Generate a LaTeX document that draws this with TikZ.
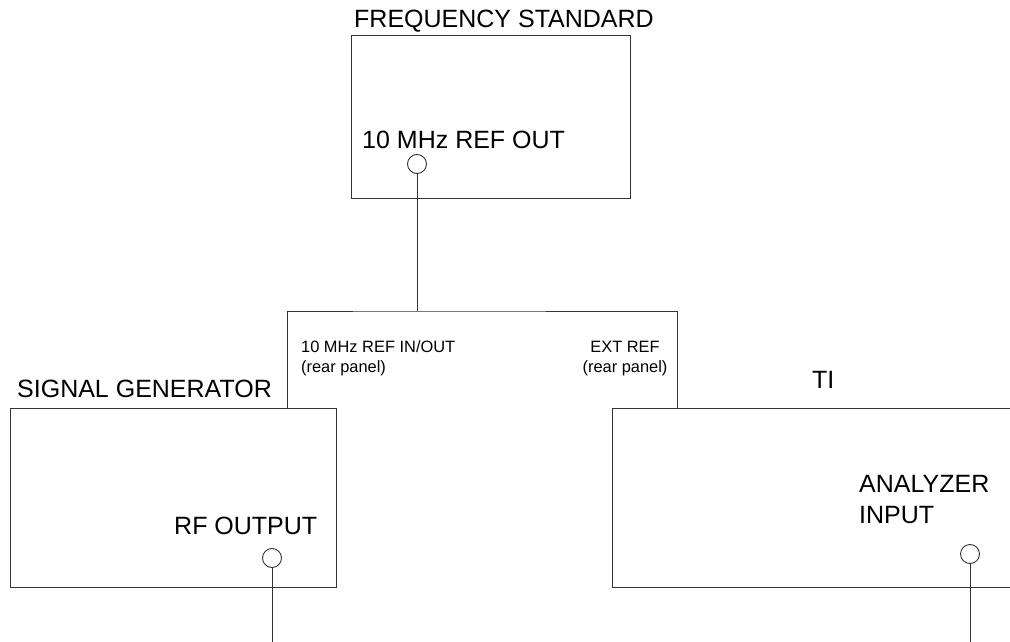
\documentclass[tikz,border=0pt]{standalone}
\usepackage{fontspec}
\setmainfont{Liberation Sans}
\usepackage{tikz}
\usetikzlibrary{positioning,calc}

\begin{document}
\begin{tikzpicture}[x=1pt, y=-1pt,
      unit/.style={draw=black!80, line width=0.9pt, rectangle, inner sep=0pt,
      anchor=north west},
      port/.style={circle, draw=black!80, line width=0.9pt, inner sep=0pt,
      minimum size=19pt},
      cable/.style={draw=black!80, line width=0.9pt},
      title/.style={font=\fontsize{25pt}{31pt}\selectfont, anchor=base west,
      inner sep=0pt},
      portlabel/.style={font=\fontsize{25pt}{31pt}\selectfont, anchor=base west,
      inner sep=0pt, align=left},
      reflabel/.style={font=\fontsize{16.4pt}{20pt}\selectfont, inner sep=0pt} ]

    \useasboundingbox (0,0) rectangle (1010,642);

    % Instruments
    \node[unit, minimum width=279pt, minimum height=163pt] (fs) at (351,35) {};
    \node[unit, minimum width=326pt, minimum height=179pt] (sg) at (10,408) {};
    \node[unit, minimum width=420pt, minimum height=179pt] (ti) at (612,408) {};

    % Instrument names
    \node[title] (fsname) at (354,28) {FREQUENCY STANDARD};
    \node[title] (sgname) at (17,397) {SIGNAL GENERATOR};
    \node[title] (tiname) at (812,388) {TI};

    % Connectors
    \node[port] (fsout) at (417,164) {}; \node[port] (sgout) at (272,558) {};
    \node[port] (tiin) at (970,554) {};

    % Connector labels
    \node[portlabel] (fsoutlbl) at (362,148) {10 MHz REF OUT};
    \node[portlabel] (sgoutlbl) at (174,534) {RF OUTPUT};
    \node[portlabel] (tiinlbl) at (859,523) {ANALYZER\\INPUT};

    % Reference distribution
    \coordinate (bus) at (417,311); \coordinate (sgref) at (287,408);
    \coordinate (tiref) at (677,408);
    \draw[cable] (fsout) -- (bus); \draw[cable] (sgref) |- (bus) -| (tiref);

    \node[reflabel, anchor=base west, align=left] (sgreflbl) at (301,372)
    {10 MHz REF IN/OUT\\(rear panel)};
    \node[reflabel, anchor=base, align=center] (tireflbl) at (625,372)
    {EXT REF\\(rear panel)};

    % Cables leaving the picture
    \coordinate (sgcable) at (272,642); \coordinate (ticable) at (970,642);
    \draw[cable] (sgout) -- (sgcable); \draw[cable] (tiin) -- (ticable);

    \end{tikzpicture}
\end{document}
